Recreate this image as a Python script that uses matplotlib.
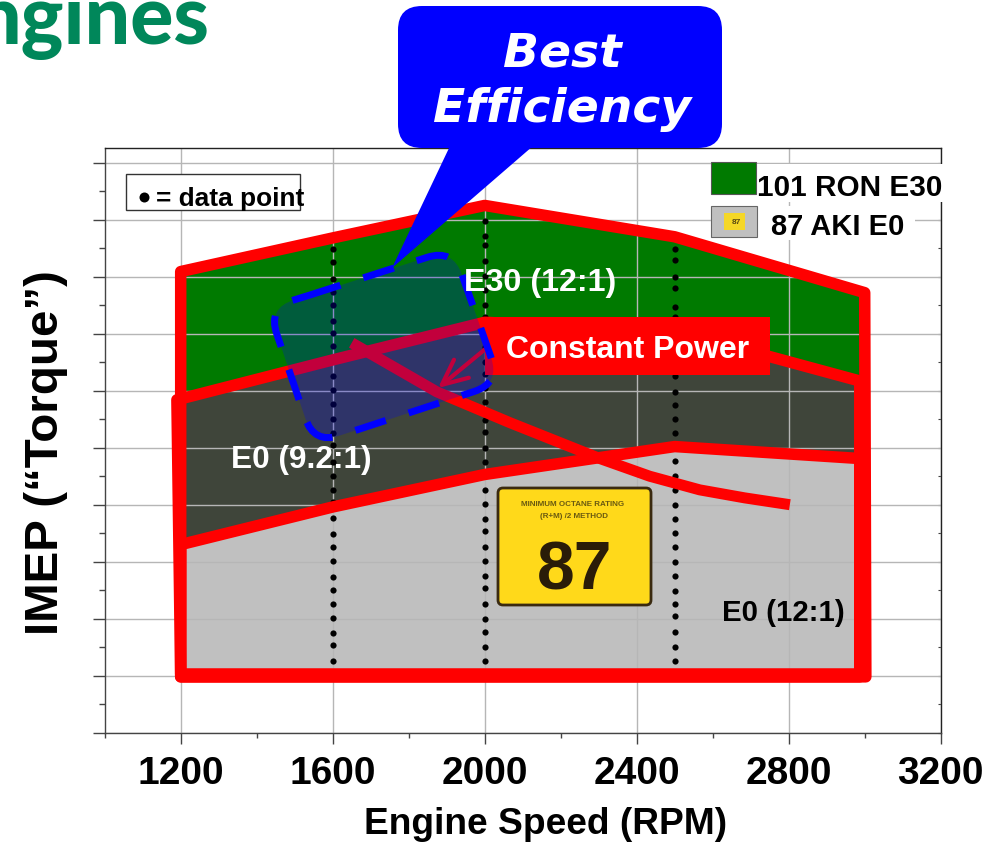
import matplotlib
matplotlib.use("Agg")
import matplotlib.pyplot as plt
from matplotlib.patches import Polygon, PathPatch, FancyBboxPatch, Rectangle
from matplotlib.path import Path
from matplotlib.transforms import Affine2D
from matplotlib.ticker import MultipleLocator, NullFormatter
import numpy as np

# Engine speed / IMEP envelopes (closed along the lower speed-load limit)
e30_rpm = [1200, 1600, 2000, 2500, 3000, 3003, 1200]
e30_imep = [8.09, 8.68, 9.25, 8.70, 7.72, 0.98, 0.98]
e0_92_rpm = [1190, 1600, 2000, 2500, 2987, 2987, 1200]
e0_92_imep = [5.84, 6.54, 7.20, 7.05, 6.17, 0.98, 0.98]
e0_12_rpm = [1200, 1600, 2000, 2500, 2987, 2987, 1200]
e0_12_imep = [3.30, 3.96, 4.53, 5.02, 4.81, 1.03, 1.03]

# Constant power curve
power_rpm = [1650, 1874, 2066, 2303, 2434, 2566, 2684, 2803]
power_imep = [6.84, 5.98, 5.44, 4.81, 4.50, 4.26, 4.12, 4.00]

# Measured operating points per speed sweep
points_1600 = [8.49, 8.26, 7.96, 7.74, 7.51, 7.23, 7.02, 6.79, 6.54, 6.25, 6.02, 5.77, 5.51, 5.26, 5.04,
               4.75, 4.51, 4.25, 4.04, 3.77, 3.49, 3.26, 3.02, 2.74, 2.51, 2.26, 2.02, 1.75, 1.53, 1.26]
points_2000 = [8.98, 8.72, 8.56, 8.28, 8.02, 7.77, 7.51, 7.30, 7.02, 6.77, 6.51, 6.30, 6.05, 5.81, 5.49, 5.28,
               5.00, 4.75, 4.51, 4.25, 4.02, 3.75, 3.53, 3.25, 3.02, 2.75, 2.53, 2.26, 2.00, 1.77, 1.51, 1.25]
points_2500 = [8.49, 8.30, 8.00, 7.81, 7.47, 7.30, 7.02, 6.77, 6.51, 6.26, 5.98, 5.75, 5.51, 5.25, 5.02,
               4.77, 4.51, 4.25, 4.00, 3.75, 3.51, 3.26, 3.00, 2.75, 2.49, 2.25, 2.04, 1.77, 1.51, 1.25]
sweep_speeds = [1600, 2000, 2500]

speed_ticks = [1200, 1600, 2000, 2400, 2800, 3200]
speed_minor = [1000, 1400, 1800, 2200, 2600, 3000]

W, H = 986, 843
RED, GREEN, DARK, GRAY, BLUE = "#ff0000", "#007a00", "#3f453a", "#c0c0c0", "#0000ff"
SANS = "Liberation Sans"

plt.rcParams["font.family"] = [SANS, "DejaVu Sans"]
plt.rcParams["font.weight"] = "bold"
plt.rcParams["lines.scale_dashes"] = False

fig = plt.figure(figsize=(W / 100, H / 100), dpi=100, facecolor="white")
ax = fig.add_axes([104.7 / W, (H - 732.7) / H, 836 / W, 584.4 / H])
ax.set_xlim(1000, 3200)
ax.set_ylim(0, 584.4 / 57)

# Annotation layer positioned in page pixels, origin at top left
page = Affine2D().scale(1, -1).translate(0, H)


def px(v):
    return v * 0.72


# Axes, ticks, grid
ax.set_axisbelow("line")
ax.grid(True, which="major", color="#b6b6b6", lw=px(1.4))
ax.set_xticks(speed_ticks)
ax.set_xticks(speed_minor, minor=True)
ax.yaxis.set_major_locator(MultipleLocator(1))
ax.yaxis.set_minor_locator(MultipleLocator(0.5))
ax.yaxis.set_major_formatter(NullFormatter())
ax.tick_params(axis="x", which="major", length=px(11), width=1, color="#444444", labelsize=28, pad=9)
ax.tick_params(axis="x", which="minor", length=px(5), width=1, color="#444444")
ax.tick_params(axis="y", which="major", length=px(12), width=1, color="#444444")
ax.tick_params(axis="y", which="minor", length=px(6), width=1, color="#444444")
for name, spine in ax.spines.items():
    spine.set_color("#222222" if name in ("top", "right") else "#444444")
    spine.set_linewidth(1)
right = ax.secondary_yaxis("right")
right.yaxis.set_major_locator(MultipleLocator(1))
right.yaxis.set_minor_locator(MultipleLocator(0.5))
right.yaxis.set_major_formatter(NullFormatter())
right.tick_params(which="both", direction="in", length=2, width=0.8, color="#444444")
right.spines["right"].set_visible(False)

ax.set_xlabel("Engine Speed (RPM)", fontsize=26.7, fontweight="bold")
ax.xaxis.set_label_coords(546, 825, transform=page)
ax.xaxis.label.set_va("center")
ax.set_ylabel("IMEP (\u201cTorque\u201d)", fontsize=34.2, fontweight="bold")
ax.yaxis.set_label_coords(46, 453, transform=page)
ax.yaxis.label.set_va("center")

# Filled regions
for rpm, imep, colour in [(e30_rpm, e30_imep, GREEN), (e0_92_rpm, e0_92_imep, DARK), (e0_12_rpm, e0_12_imep, GRAY)]:
    ax.add_patch(Polygon(np.column_stack([rpm, imep]), closed=True, facecolor=colour, edgecolor="none", zorder=1))

# Data points
for speed, pts in zip(sweep_speeds, [points_1600, points_2000, points_2500]):
    ax.plot([speed] * len(pts), pts, ls="none", marker="o", ms=px(6.2), mfc="black", mec="none", zorder=2)

# Region outlines
for rpm, imep in [(e30_rpm, e30_imep), (e0_92_rpm, e0_92_imep), (e0_12_rpm, e0_12_imep)]:
    ax.add_patch(Polygon(np.column_stack([rpm, imep]), closed=True, fill=False, edgecolor=RED,
                         lw=px(11.5), joinstyle="round", zorder=3, clip_on=False))
ax.plot(power_rpm, power_imep, color=RED, lw=px(11), solid_capstyle="butt", solid_joinstyle="round", zorder=3)


def label(x, y, s, size, color="black", **kw):
    return ax.text(x, y, s, transform=page, fontsize=size, color=color, ha="center", va="center",
                   fontweight="bold", clip_on=False, zorder=kw.pop("zorder", 6), **kw)


# Constant power tag and arrow
ax.add_patch(Rectangle((485, 317), 285, 58, transform=page, facecolor=RED, edgecolor="none", zorder=4, clip_on=False))
label(628, 350, "Constant Power", 23, "white")
ax.annotate("", xy=(438, 388), xytext=(489, 346), xycoords=page, textcoords=page, zorder=4,
            arrowprops=dict(arrowstyle="->,head_length=1.3,head_width=0.6", color=RED, lw=px(4.2),
                            shrinkA=0, shrinkB=0, mutation_scale=14))


def rounded(start, corners, r):
    verts, codes = [start], [Path.MOVETO]
    pts = [start] + corners + [start]
    for i, c in enumerate(corners, start=1):
        c = np.array(c, float)
        a = np.array(pts[i - 1], float)
        b = np.array(pts[i + 1], float)
        u, v = (a - c) / np.linalg.norm(a - c), (b - c) / np.linalg.norm(b - c)
        verts += [c + r * u, c, c + r * v]
        codes += [Path.LINETO, Path.CURVE3, Path.CURVE3]
    verts.append(start)
    codes.append(Path.LINETO)
    return Path(verts, codes)


# Best-efficiency island
island = rounded((310, 295), [(453, 249), (500, 383), (314, 444), (268, 308)], 27)
ax.add_patch(PathPatch(island, transform=page, facecolor=BLUE, edgecolor="none", alpha=0.24, zorder=5, clip_on=False))
ax.add_patch(PathPatch(island, transform=page, fill=False, edgecolor=BLUE, lw=px(7),
                       linestyle=(0, (px(32), px(24))), capstyle="butt", zorder=5, clip_on=False))

# Callout
ax.add_patch(Polygon([(450, 146), (533, 146), (392, 268)], closed=True, transform=page, facecolor=BLUE,
                     edgecolor="none", zorder=7, clip_on=False))
ax.add_patch(FancyBboxPatch((398 + 24, 6 + 24), 324 - 48, 142 - 48, boxstyle="round,pad=24,rounding_size=24",
                            transform=page, facecolor=BLUE, edgecolor="none", zorder=7, clip_on=False))
for y, s in [(54, "Best"), (110, "Efficiency")]:
    ax.text(562, y, s, transform=page, family="DejaVu Sans", fontstyle="oblique", fontweight="bold", fontsize=34,
            color="white", ha="center", va="center", zorder=8, clip_on=False)

# Region labels
label(540, 283, "E30 (12:1)", 23.2, "white")
label(301, 460, "E0 (9.2:1)", 22.8, "white")
label(783, 613, "E0 (12:1)", 21.2)

# Data point key
ax.add_patch(Rectangle((126, 174), 174, 36, transform=page, facecolor="white", edgecolor="#333333", lw=1, zorder=4))
ax.plot([144], [197], transform=page, marker="o", ms=px(10), mfc="black", mec="none", zorder=5)
ax.text(156, 199, "= data point", transform=page, fontsize=18.9, fontweight="bold", ha="left", va="center",
        zorder=5, clip_on=False)

# Fuel legend
ax.add_patch(Rectangle((757, 164), 190, 38, transform=page, facecolor="white", edgecolor="none", zorder=4, clip_on=False))
ax.add_patch(Rectangle((757, 206), 158, 34, transform=page, facecolor="white", edgecolor="none", zorder=4, clip_on=False))
ax.add_patch(Rectangle((711, 162), 45, 32, transform=page, facecolor=GREEN, edgecolor="#555555", lw=0.8, zorder=5))
ax.add_patch(Rectangle((711, 206), 46, 31, transform=page, facecolor=GRAY, edgecolor="#666666", lw=0.8, zorder=5))
ax.add_patch(Rectangle((724, 213), 21, 17, transform=page, facecolor="#f5d726", edgecolor="none", zorder=5))
label(736, 223, "87", 6, "#5a4a10")
label(850, 188, "101 RON E30", 21.4)
label(838, 227, "87 AKI E0", 21)

# Octane sticker
ax.add_patch(FancyBboxPatch((501, 491), 147, 111, boxstyle="round,pad=3,rounding_size=5", transform=page,
                            facecolor="#ffd91a", edgecolor="#3a2a10", lw=2, zorder=4, clip_on=False))
label(572.5, 505, "MINIMUM OCTANE RATING", 5.8, "#6a5a10", zorder=5)
label(574.5, 516.5, "(R+M) /2 METHOD", 5.8, "#6a5a10", zorder=5)
label(574.5, 571, "87", 49, "#2a1c08", zorder=5)

# Page heading, running off the left edge
fig.text(209 / W, (H - 44) / H, "ngines", family="Lato", fontweight="black", fontsize=58, color="#00875a",
         ha="right", va="baseline")

fig.savefig("out.png", dpi=100, facecolor="white")
